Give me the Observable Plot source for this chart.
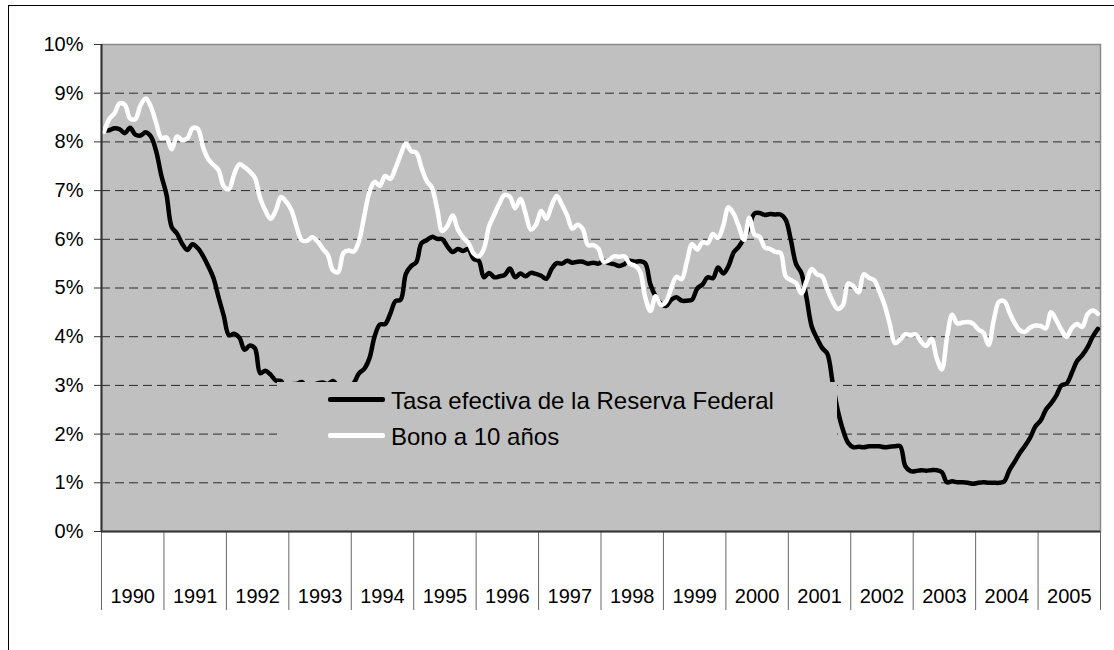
<!DOCTYPE html>
<html>
<head>
<meta charset="utf-8">
<script src="https://cdn.jsdelivr.net/npm/d3@7"></script>
<script src="https://cdn.jsdelivr.net/npm/@observablehq/plot@0.6"></script>
<style>
  html, body { margin: 0; padding: 0; background: #fff; overflow: hidden; }
  body { position: relative; width: 1114px; height: 650px; font-family: "Liberation Sans", Arial, sans-serif; }
  #border { position: absolute; left: 8px; top: 5px; width: 1130px; height: 670px; border: 1px solid #000; box-sizing: border-box; pointer-events: none; }
  #chart { position: absolute; left: 0; top: 0; }
  #legend { position: absolute; left: 277px; top: 382px; width: 560px; height: 88px; background: #c0c0c0; }
  .row { position: absolute; left: 0; height: 30px; }
  .swatch { position: absolute; left: 51px; width: 57px; height: 5px; border-radius: 2px; }
  .label { position: absolute; left: 114px; font-size: 24px; line-height: 24px; color: #000; white-space: nowrap; }
</style>
</head>
<body>
<div id="chart"></div>
<div id="legend"></div>
<div id="border"></div>
<script>
const years = [1990,1991,1992,1993,1994,1995,1996,1997,1998,1999,2000,2001,2002,2003,2004,2005];
const seriesNames = ["Tasa efectiva de la Reserva Federal", "Bono a 10 años"];
const yTicks = [0,1,2,3,4,5,6,7,8,9,10];

// Monthly values, Jan 1990 – Dec 2005 (percent)
const fedFunds = [
  8.23,8.24,8.28,8.26,8.18,8.29,8.15,8.13,8.20,8.11,7.81,7.31,
  6.91,6.25,6.12,5.91,5.78,5.90,5.82,5.66,5.45,5.21,4.81,4.43,
  4.03,4.06,3.98,3.73,3.82,3.76,3.25,3.30,3.22,3.10,3.09,2.92,
  3.02,3.03,3.07,2.96,3.00,3.04,3.06,3.03,3.09,2.99,3.02,2.96,
  3.05,3.25,3.34,3.56,4.01,4.25,4.26,4.47,4.73,4.76,5.29,5.45,
  5.53,5.92,5.98,6.05,6.01,6.00,5.85,5.74,5.80,5.76,5.80,5.60,
  5.56,5.22,5.31,5.22,5.24,5.27,5.40,5.22,5.30,5.24,5.31,5.29,
  5.25,5.19,5.39,5.51,5.50,5.56,5.52,5.54,5.54,5.50,5.52,5.50,
  5.56,5.51,5.49,5.45,5.49,5.56,5.54,5.55,5.51,5.07,4.83,4.68,
  4.63,4.76,4.81,4.74,4.74,4.76,4.99,5.07,5.22,5.20,5.42,5.30,
  5.45,5.73,5.85,6.02,6.27,6.53,6.54,6.50,6.52,6.51,6.51,6.40,
  5.98,5.49,5.31,4.80,4.21,3.97,3.77,3.65,3.07,2.49,2.09,1.82,
  1.73,1.74,1.73,1.75,1.75,1.75,1.73,1.74,1.75,1.75,1.34,1.24,
  1.24,1.26,1.25,1.26,1.26,1.22,1.01,1.03,1.01,1.01,1.00,0.98,
  1.00,1.01,1.00,1.00,1.00,1.03,1.26,1.43,1.61,1.76,1.93,2.16,
  2.28,2.50,2.63,2.79,3.00,3.04,3.26,3.50,3.62,3.78,4.00,4.16
];
const bond10 = [
  8.21,8.47,8.59,8.79,8.76,8.48,8.47,8.75,8.89,8.72,8.39,8.08,
  8.09,7.85,8.11,8.04,8.07,8.28,8.27,7.90,7.65,7.53,7.42,7.09,
  7.03,7.34,7.54,7.48,7.39,7.26,6.84,6.59,6.42,6.59,6.87,6.77,
  6.60,6.26,5.98,5.97,6.04,5.96,5.81,5.68,5.36,5.33,5.72,5.77,
  5.75,5.97,6.48,6.97,7.18,7.10,7.30,7.24,7.46,7.74,7.96,7.81,
  7.78,7.47,7.20,7.06,6.63,6.17,6.28,6.49,6.20,6.04,5.93,5.71,
  5.65,5.81,6.27,6.51,6.74,6.91,6.87,6.64,6.83,6.53,6.20,6.30,
  6.58,6.42,6.69,6.89,6.71,6.49,6.22,6.30,6.21,5.88,5.88,5.81,
  5.54,5.57,5.65,5.64,5.65,5.50,5.46,5.34,4.81,4.53,4.83,4.65,
  4.72,5.00,5.23,5.18,5.54,5.90,5.79,5.94,5.92,6.11,6.03,6.28,
  6.66,6.52,6.26,5.99,6.44,6.10,6.05,5.83,5.80,5.74,5.72,5.24,
  5.16,5.10,4.89,5.14,5.39,5.28,5.24,4.97,4.73,4.57,4.65,5.09,
  5.04,4.91,5.28,5.21,5.16,4.93,4.65,4.26,3.87,3.94,4.05,4.03,
  4.05,3.90,3.81,3.96,3.57,3.33,3.98,4.45,4.27,4.29,4.30,4.27,
  4.15,4.08,3.83,4.35,4.72,4.73,4.50,4.28,4.13,4.10,4.19,4.23,
  4.22,4.17,4.50,4.34,4.14,4.00,4.18,4.26,4.20,4.46,4.54,4.47
];

const fedData = fedFunds.map((v, i) => ({i, v}));
const bondData = bond10.map((v, i) => ({i, v}));
const nMonths = fedFunds.length;
const boundaries = d3.range(years.length + 1).map(k => 12 * k - 0.5);
const centers = years.map((y, k) => 12 * k + 5.5);
const gridVals = yTicks.filter(d => d > 0 && d < 10);

const chart = Plot.plot({
  width: 1114,
  height: 650,
  marginLeft: 101,
  marginRight: 14,
  marginTop: 44,
  marginBottom: 119,
  style: {fontFamily: '"Liberation Sans", Arial, sans-serif', fontSize: "20px", background: "transparent", color: "#000", overflow: "visible"},
  x: {domain: [-0.5, nMonths - 0.5], label: null},
  y: {domain: [0, 10], label: null},
  marks: [
    Plot.frame({fill: "#c0c0c0", stroke: "#8a8a8a", strokeWidth: 1.5}),
    Plot.ruleY(gridVals, {stroke: "#2a2a2a", strokeDasharray: "9,5", strokeWidth: 1}),
    Plot.axisY({ticks: yTicks, tickFormat: d => d + "%", tickSize: 7, tickPadding: 11, fontSize: 20, stroke: "#333", fill: "#000", label: null}),
    Plot.axisX({ticks: boundaries, tickSize: 79, tickFormat: () => "", stroke: "#666", label: null}),
    Plot.axisX({ticks: centers, tickSize: 0, tickPadding: 57, fontSize: 20, fill: "#000", label: null, tickFormat: d => String(years[Math.round((d - 5.5) / 12)])}),
    Plot.line(fedData, {x: "i", y: "v", stroke: "#000", strokeWidth: 4.5, curve: "catmull-rom", strokeLinejoin: "round", strokeLinecap: "round"}),
    Plot.line(bondData, {x: "i", y: "v", stroke: "#fff", strokeWidth: 4.5, curve: "catmull-rom", strokeLinejoin: "round", strokeLinecap: "round"}),
    Plot.ruleX([-0.5], {stroke: "#333", strokeWidth: 2}),
    Plot.ruleY([0], {stroke: "#333", strokeWidth: 2})
  ]
});
document.getElementById("chart").appendChild(chart);

// Legend (drawn over the plot area, like the original)
const legend = document.getElementById("legend");
const legendColors = ["#000", "#fff"];
seriesNames.forEach((name, k) => {
  const row = document.createElement("div");
  row.className = "row";
  row.style.top = (5 + k * 36) + "px";
  row.style.width = "560px";
  const sw = document.createElement("div");
  sw.className = "swatch";
  sw.style.top = "10px";
  sw.style.background = legendColors[k];
  const lab = document.createElement("div");
  lab.className = "label";
  lab.style.top = "2px";
  lab.textContent = name;
  row.appendChild(sw);
  row.appendChild(lab);
  legend.appendChild(row);
});
</script>
</body>
</html>
